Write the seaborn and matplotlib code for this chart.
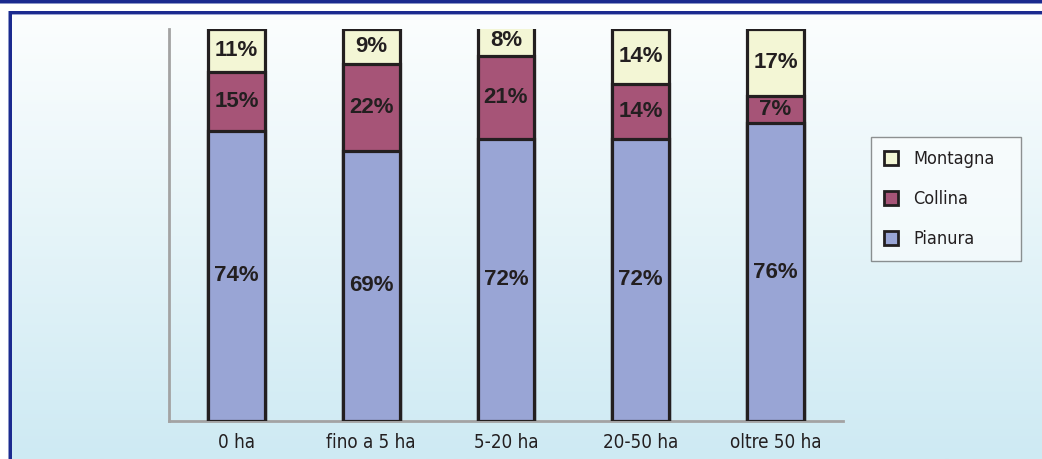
import numpy as np
import pandas as pd
import matplotlib
matplotlib.use("Agg")
import matplotlib.pyplot as plt
import seaborn as sns
from matplotlib.patches import Patch, Rectangle
from matplotlib.font_manager import FontProperties

categories = ["0 ha", "fino a 5 ha", "5-20 ha", "20-50 ha", "oltre 50 ha"]
pianura = [74, 69, 72, 72, 76]
collina = [15, 22, 21, 14, 7]
montagna = [11, 9, 8, 14, 17]

series_colors = {"Pianura": "#99A5D5", "Collina": "#A65477", "Montagna": "#F3F6D5"}
EDGE = "#231F20"
FRAME = "#1B2A8F"

sns.set_theme(style="white")
plt.rcParams["font.family"] = ["DejaVu Sans"]
plt.rcParams["font.stretch"] = "condensed"

W, H = 1042, 459
fig = plt.figure(figsize=(W / 100, H / 100), dpi=100)

# background: white strip, blue frame lines, gradient panel
bg = fig.add_axes([0, 0, 1, 1], zorder=-10)
bg.set_xlim(0, W)
bg.set_ylim(H, 0)
bg.axis("off")
top = np.array([252, 254, 254]) / 255
bot = np.array([206, 234, 243]) / 255
t = np.linspace(0, 1, 256)[:, None]
grad = (top * (1 - t) + bot * t)[:, None, :]
bg.imshow(grad, extent=(12, W, H, 14), aspect="auto", interpolation="bilinear")
bg.add_patch(Rectangle((0, 0), W, 2.5, color=FRAME, lw=0))
bg.add_patch(Rectangle((0, 2.5), W, 1, color="#8C96C8", lw=0))
bg.add_patch(Rectangle((9, 11), W, 3, color=FRAME, lw=0))
bg.add_patch(Rectangle((9, 14), W, 1, color="#9AA3D0", lw=0))
bg.add_patch(Rectangle((9, 11), 3, H, color=FRAME, lw=0))
bg.add_patch(Rectangle((8, 11), 1, H, color="#8C96C8", lw=0))

ax = fig.add_axes([169 / W, 1 - 421 / H, (843 - 169) / W, (421 - 29) / H])
ax.set_facecolor("none")

df = pd.DataFrame({"cat": categories, "Pianura": pianura,
                   "Collina": collina, "Montagna": montagna})
df["c1"] = df["Pianura"]
df["c2"] = df["c1"] + df["Collina"]
df["c3"] = df["c2"] + df["Montagna"]

# stacked bars: draw tallest cumulative first
for col, name in [("c3", "Montagna"), ("c2", "Collina"), ("c1", "Pianura")]:
    sns.barplot(data=df, x="cat", y=col, color=series_colors[name],
                saturation=1, width=0.42, edgecolor=EDGE, linewidth=2.3,
                ax=ax, zorder=3)

# percentage labels at segment centres
pct_font = FontProperties(family=["Liberation Sans", "DejaVu Sans"], weight="bold",
                          stretch="normal", size=16)
for i, row in df.iterrows():
    bottoms = [0, row["c1"], row["c2"]]
    vals = [row["Pianura"], row["Collina"], row["Montagna"]]
    for b, v in zip(bottoms, vals):
        ax.text(i, b + v / 2, f"{v}%", ha="center", va="center",
                fontproperties=pct_font, color=EDGE, zorder=5)

ax.set_xlim(-0.5, 4.5)
ax.set_ylim(0, 100)
ax.set_xlabel("")
ax.set_ylabel("")
ax.set_yticks([])
ax.tick_params(axis="x", length=0, pad=9, labelsize=13.5, labelcolor="#231F20")
for s in ["top", "right"]:
    ax.spines[s].set_visible(False)
for s in ["left", "bottom"]:
    ax.spines[s].set_color("#A3A3A3")
    ax.spines[s].set_linewidth(2)

handles = [Patch(facecolor=series_colors[n], edgecolor=EDGE, linewidth=2, label=n)
           for n in ["Montagna", "Collina", "Pianura"]]
leg = fig.legend(handles=handles, loc="upper left", mode="expand",
                 bbox_to_anchor=(871 / W, 1 - 259 / H, 150 / W, 122 / H),
                 bbox_transform=fig.transFigure,
                 frameon=True, fancybox=False, fontsize=13,
                 handlelength=0.8, handleheight=0.8, handletextpad=0.8,
                 labelspacing=1.23, borderpad=0.72, borderaxespad=0)
leg.get_frame().set_edgecolor("#3A3A3A")
leg.get_frame().set_linewidth(1)
leg.get_frame().set_facecolor("#FFFFFF")
leg.get_frame().set_alpha(0.55)
for txt in leg.get_texts():
    txt.set_color("#231F20")

fig.savefig("out.png", dpi=100)
